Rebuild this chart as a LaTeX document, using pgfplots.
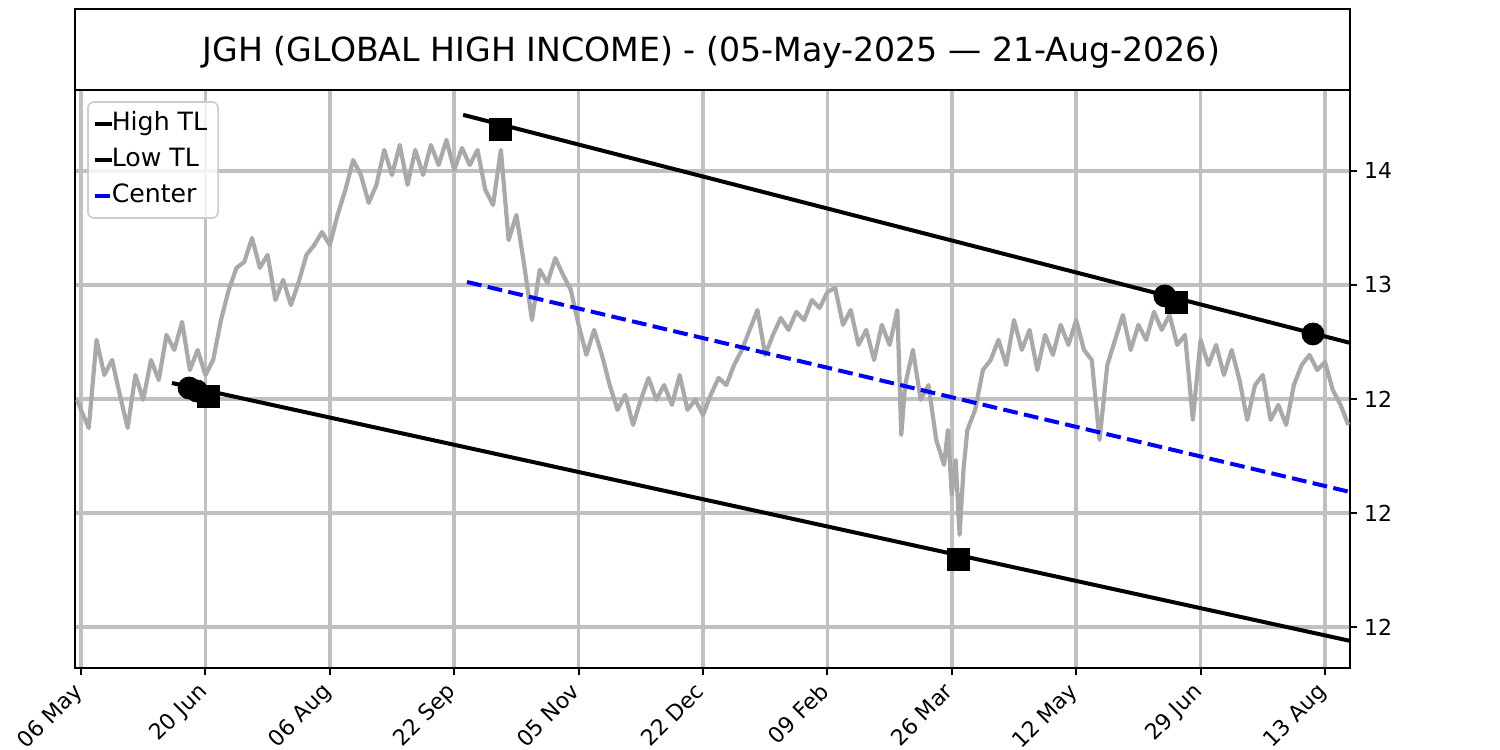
\documentclass[border=0pt]{standalone}
\usepackage{fontspec}
\setmainfont{DejaVu Sans}
\usepackage{pgfplots}
\pgfplotsset{compat=1.18}
\definecolor{pricegray}{RGB}{169,169,169}
\definecolor{gridgray}{RGB}{192,192,192}
\definecolor{legframe}{RGB}{204,204,204}
\begin{document}
\begin{tikzpicture}
\path[use as bounding box] (-37.5pt,-41pt) rectangle (712.5pt,334pt);
\begin{axis}[
  at={(0pt,0pt)}, anchor=south west,
  scale only axis, width=637.5pt, height=289pt,
  xmin=-1.543, xmax=326.43, ymin=11.320, ymax=13.855,
  axis line style={line width=1pt, black},
  xtick={0,32,64,96,128,160,192,224,256,288,320},
  xticklabels={06 May,20 Jun,06 Aug,22 Sep,05 Nov,22 Dec,09 Feb,26 Mar,12 May,29 Jun,13 Aug},
  ytick={11.5,12,12.5,13,13.5},
  yticklabels={12,12,12,13,14},
  xtick pos=bottom, ytick pos=right, yticklabel pos=right,
  tick align=outside, major tick length=3.5pt,
  every tick/.style={black, line width=1pt},
  tick label style={font=\fontsize{11}{13}\selectfont},
  xticklabel style={xshift=-4.5pt, yshift=-1.5pt, rotate=45, anchor=north east, inner sep=1pt},
  /pgf/number format/assume math mode=true,
  grid=major,
  major grid style={line width=1.75pt, gridgray},
  legend cell align=left,
  legend image code/.code={\draw[#1] (0pt,0pt) -- (8.5pt,0pt);},
  legend style={
    at={(0.0102,0.979)}, anchor=north west,
    draw=none, fill=none,
    font=\fontsize{12.6}{14}\selectfont,
    inner xsep=2.2pt, inner ysep=5pt,
    nodes={inner sep=0pt, text height=9pt, text depth=2.5pt},
    row sep=6.5pt,
    /tikz/every odd column/.append style={column sep=-1pt},
  },
]
\addplot[pricegray, line width=2.1pt, line join=round, forget plot] coordinates {
(-1,12.496) (0,12.452) (2,12.373) (4,12.759) (6,12.605) (8,12.671) (10,12.518) (12,12.373)
(14,12.605) (16,12.496) (18,12.671) (20,12.583) (22,12.781) (24,12.715) (26,12.838) (28,12.627)
(30,12.715) (32,12.605) (34,12.671) (36,12.846) (38,12.978) (40,13.075) (42,13.101) (44,13.206)
(46,13.075) (48,13.132) (50,12.934) (52,13.022) (54,12.912) (56,13.013) (58,13.132) (60,13.175)
(62,13.232) (64,13.175) (66,13.307) (68,13.417) (70,13.548) (72,13.482) (74,13.360) (76,13.439)
(78,13.592) (80,13.482) (82,13.614) (84,13.439) (86,13.592) (88,13.482) (90,13.614) (92,13.526)
(94,13.636) (96,13.504) (98,13.601) (100,13.526) (102,13.592) (104,13.417) (106,13.351) (108,13.592)
(110,13.197) (112,13.307) (114,13.088) (116,12.846) (118,13.066) (120,13.009) (122,13.118) (124,13.044)
(126,12.978) (128,12.825) (130,12.693) (132,12.803) (134,12.693) (136,12.561) (138,12.452) (140,12.518)
(142,12.386) (144,12.496) (146,12.592) (148,12.496) (150,12.561) (152,12.474) (154,12.605) (156,12.452)
(158,12.496) (160,12.430) (162,12.518) (164,12.592) (166,12.561) (168,12.649) (170,12.715) (172,12.803)
(174,12.890) (176,12.693) (178,12.781) (180,12.855) (182,12.803) (184,12.882) (186,12.846) (188,12.934)
(190,12.899) (192,12.969) (194,12.987) (196,12.825) (198,12.890) (200,12.737) (202,12.803) (204,12.671)
(206,12.825) (208,12.737) (210,12.890) (211,12.342) (212,12.561) (214,12.715) (216,12.496) (218,12.561)
(220,12.320) (222,12.211) (223,12.364) (224,12.079) (225,12.232) (226,11.904) (227,12.189) (228,12.364)
(230,12.452) (232,12.627) (234,12.671) (236,12.759) (238,12.649) (240,12.846) (242,12.715) (244,12.803)
(246,12.627) (248,12.781) (250,12.693) (252,12.825) (254,12.737) (256,12.846) (258,12.715) (260,12.671)
(262,12.320) (264,12.649) (266,12.759) (268,12.868) (270,12.715) (272,12.825) (274,12.759) (276,12.882)
(278,12.803) (280,12.868) (282,12.737) (284,12.781) (286,12.408) (288,12.759) (290,12.649) (292,12.737)
(294,12.605) (296,12.715) (298,12.583) (300,12.408) (302,12.561) (304,12.605) (306,12.408) (308,12.474)
(310,12.386) (312,12.561) (314,12.649) (316,12.693) (318,12.627) (320,12.662) (322,12.539) (324,12.474)
(326,12.386)
};
\addplot[black, line width=2pt] coordinates {(98.3,13.746) (326.43,12.746)};
\addlegendentry{High TL}
\addplot[black, line width=2pt] coordinates {(23.4,12.570) (326.43,11.439)};
\addlegendentry{Low TL}
\addplot[blue, line width=2pt, dash pattern=on 7.4pt off 3.2pt] coordinates {(99.3,13.013) (326.43,12.092)};
\addlegendentry{Center}
\addplot[only marks, mark=*, mark size=5.5pt, black, forget plot] coordinates {
(27.8,12.548) (29.8,12.535) (278.8,12.952) (316.9,12.785)};
\addplot[only marks, mark=square*, mark size=5.5pt, black, forget plot] coordinates {
(108.0,13.684) (281.9,12.925) (32.9,12.513) (225.6,11.798)};
\draw[legframe, line width=0.8pt, rounded corners=3pt, fill=white, fill opacity=0.8]
  ({rel axis cs:0.0102,0.9792}) rectangle ({rel axis cs:0.1122,0.7785});
\end{axis}
\draw[line width=1pt] (0pt,289pt) rectangle (637.5pt,329.5pt);
\node[anchor=base, font=\fontsize{16.6}{20}\selectfont, inner sep=0pt] at (318.25pt,303.2pt) {JGH (GLOBAL HIGH INCOME) - (05-May-2025 — 21-Aug-2026)};
\end{tikzpicture}
\end{document}
